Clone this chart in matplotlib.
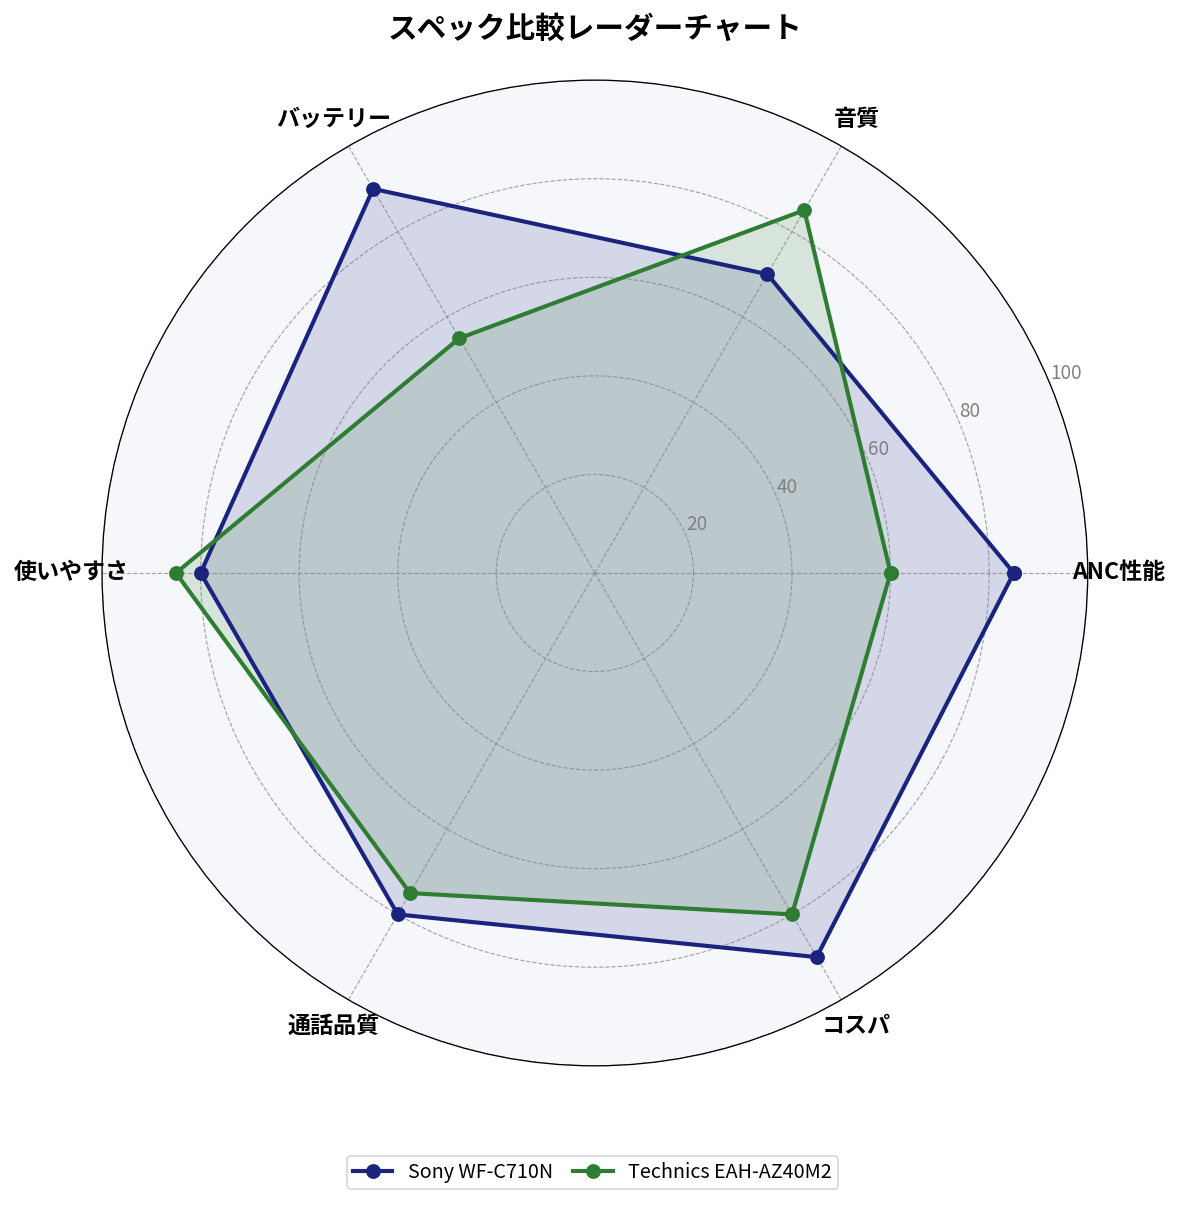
import numpy as np
import matplotlib
matplotlib.use('Agg')
import matplotlib.pyplot as plt

plt.rcParams['font.family'] = ['Noto Sans CJK JP', 'DejaVu Sans']

categories = ['ANC性能', '音質', 'バッテリー', '使いやすさ', '通話品質', 'コスパ']
sony_values = [85, 70, 90, 80, 80, 90]
technics_values = [60, 85, 55, 85, 75, 80]
series_names = ['Sony WF-C710N', 'Technics EAH-AZ40M2']
r_ticks = [20, 40, 60, 80, 100]

n = len(categories)
angles = np.linspace(0, 2 * np.pi, n, endpoint=False).tolist()
angles_closed = angles + angles[:1]

fig = plt.figure(figsize=(10, 1205 / 118.5), dpi=118.5)
ax = fig.add_axes([0.086, 0.1155, 0.832, 0.818], projection='polar')
ax.set_facecolor('#f5f7fa')

series = [
    (sony_values, series_names[0], '#1a237e'),
    (technics_values, series_names[1], '#2e7d32'),
]
for vals, name, col in series:
    v = vals + vals[:1]
    ax.plot(angles_closed, v, color=col, linewidth=2.5, marker='o', markersize=8, label=name)
    ax.fill(angles_closed, v, color=col, alpha=0.15)

ax.set_ylim(0, 100)
ax.set_yticks(r_ticks)
ax.set_yticklabels([str(t) for t in r_ticks], color='gray', fontsize=11.5)
ax.set_rlabel_position(22.5)
ax.set_xticks(angles)
ax.set_xticklabels(categories, fontsize=14, fontweight='bold')
ax.tick_params(axis='x', pad=8)
ax.grid(color='gray', linestyle='--', linewidth=0.7, alpha=0.7)

ax.set_title('スペック比較レーダーチャート', fontsize=18, fontweight='bold', pad=25.5)

fig.legend(loc='lower center', ncol=2, bbox_to_anchor=(0.5, 0.005), fontsize=12,
           frameon=True, columnspacing=1.0, borderpad=0.3)

fig.savefig('out.png', dpi=118.5)
